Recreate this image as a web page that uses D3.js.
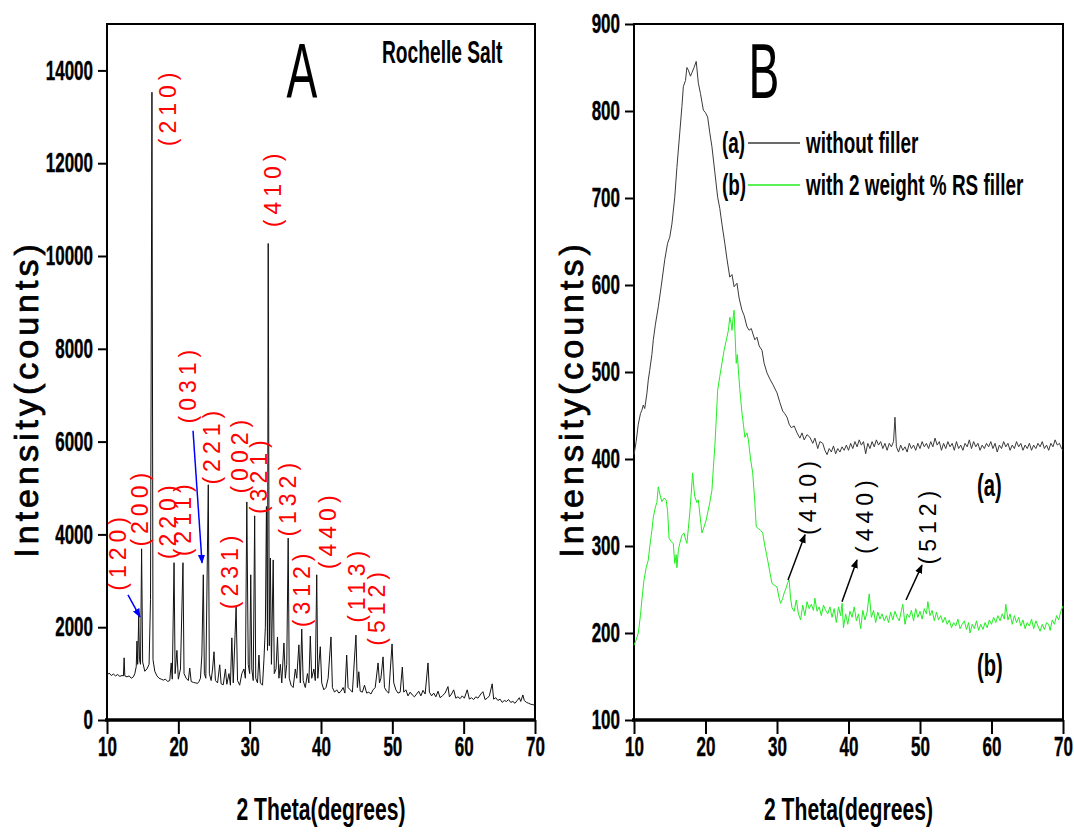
<!DOCTYPE html>
<html>
<head>
<meta charset="utf-8">
<script src="https://cdn.jsdelivr.net/npm/d3@7"></script>
<style>
  body { margin: 0; background: #fff; }
  svg { display: block; }
  text { font-family: "Liberation Sans", Arial, sans-serif; }
</style>
</head>
<body>
<div id="chart"></div>
<script>
// ---------- data ----------
var xTicks = [10, 20, 30, 40, 50, 60, 70];
var yTicksA = [0, 2000, 4000, 6000, 8000, 10000, 12000, 14000];
var yTicksB = [100, 200, 300, 400, 500, 600, 700, 800, 900];

// panel A : Rochelle salt powder pattern (2theta, counts)
var rsTheta = [10.0,10.3,10.6,10.9,11.2,11.5,11.8,12.1,12.3,12.4,12.5,12.8,13.1,13.4,13.7,13.9,14.1,14.2,14.3,14.45,14.55,14.7,14.85,15.0,15.3,15.6,15.9,16.1,16.3,16.45,16.7,17.0,17.3,17.6,17.9,18.2,18.5,18.8,19.0,19.15,19.4,19.55,19.8,20.0,20.3,20.65,20.8,21.1,21.4,21.6,21.8,22.1,22.4,22.7,22.9,23.1,23.3,23.5,23.65,23.85,24.2,24.35,24.6,24.8,25.0,25.2,25.5,25.8,26.0,26.3,26.6,26.8,27.1,27.3,27.5,27.7,28.1,28.3,28.6,28.9,29.2,29.4,29.6,29.8,30.0,30.15,30.3,30.5,30.7,30.85,31.1,31.3,31.5,31.8,32.0,32.2,32.35,32.5,32.6,32.75,32.9,33.05,33.3,33.45,33.7,33.9,34.1,34.3,34.5,34.8,35.0,35.2,35.4,35.55,35.8,36.1,36.4,36.6,36.9,37.1,37.3,37.5,37.8,38.1,38.3,38.5,38.7,39.0,39.2,39.4,39.55,39.9,40.1,40.4,40.7,41.0,41.4,41.6,41.9,42.2,42.5,42.8,43.1,43.35,43.6,43.8,44.1,44.4,44.9,45.1,45.3,45.5,45.8,46.1,46.4,46.7,47.0,47.3,47.6,48.0,48.2,48.4,48.7,48.9,49.2,49.5,49.96,50.2,50.5,50.8,51.1,51.4,51.6,51.9,52.2,52.5,52.8,53.1,53.4,53.7,54.0,54.3,54.6,55.0,55.2,55.5,55.8,56.1,56.4,56.7,57.0,57.4,57.8,58.0,58.3,58.6,58.9,59.2,59.5,59.8,60.1,60.5,60.8,61.1,61.4,61.7,62.0,62.4,62.7,63.0,63.3,63.6,64.0,64.2,64.5,64.8,65.1,65.4,65.7,66.0,66.3,66.6,66.9,67.2,67.5,67.8,68.0,68.3,68.5,68.8,69.1,69.4,69.7,70.0];
var rsCounts = [970,1010,960,990,950,980,940,960,950,1340,950,930,950,900,930,1000,1150,1700,1200,2250,1300,1200,3690,1250,1050,1100,1200,2600,13530,1300,1050,950,900,880,860,880,830,850,1230,880,3390,1000,1500,880,1100,3390,1000,900,850,1120,830,810,800,790,830,900,1400,3130,1000,900,5070,1000,850,1100,1470,850,800,1190,780,760,1100,770,1000,750,1770,800,2440,850,750,1000,1100,900,4700,1200,1000,3130,1100,850,4400,900,800,1400,800,750,1300,2000,4600,1500,10270,1600,3490,1200,3450,1000,1100,1790,900,1200,800,1660,900,1200,3920,900,750,700,1100,900,1620,800,1960,850,700,1000,800,1810,900,1100,850,3130,900,1580,800,650,700,900,1790,700,600,650,580,620,700,580,1400,700,650,600,1830,700,1040,620,600,750,580,600,560,650,700,1230,800,900,1360,700,620,580,1640,800,650,580,600,1140,600,650,520,600,540,500,560,620,520,640,560,1230,600,520,580,500,620,480,520,580,720,500,560,650,470,500,460,520,470,650,450,480,440,500,470,560,610,440,470,520,780,450,480,420,450,380,420,400,440,380,400,360,420,480,400,540,420,380,360,340,330,320];

// panel B, curve (a): without filler
var aTheta = [10.0,10.3,10.6,10.9,11.1,11.3,11.5,11.8,12.0,12.2,12.5,12.7,13.0,13.4,13.8,14.3,14.7,15.0,15.3,15.7,16.0,16.4,16.7,16.9,17.2,17.4,17.6,17.9,18.1,18.4,18.7,19.0,19.3,19.7,20.0,20.3,20.6,20.9,21.3,21.7,22.0,22.3,22.7,23.0,23.4,23.7,24.0,24.4,24.7,25.1,25.4,25.8,26.1,26.4,26.9,27.2,27.5,27.9,28.2,28.6,29.0,29.4,30.0,30.4,30.8,31.1,31.4,31.7,32.0,32.4,32.8,33.2,33.5,33.8,34.2,34.6,35.0,35.3,35.7,36.0,36.4,36.7,37.0,37.3,37.6,37.9,38.2,38.5,38.8,39.1,39.4,39.7,40.0,40.3,40.6,40.9,41.2,41.5,41.8,42.1,42.4,42.7,43.0,43.3,43.6,43.9,44.2,44.5,44.8,45.1,45.4,45.7,46.0,46.3,46.5,46.7,47.0,47.3,47.6,47.9,48.2,48.5,48.8,49.1,49.4,49.7,50.0,50.3,50.6,50.9,51.2,51.5,51.8,52.1,52.4,52.7,53.0,53.3,53.6,53.9,54.2,54.5,54.8,55.1,55.4,55.7,56.0,56.3,56.6,56.9,57.2,57.5,57.8,58.1,58.4,58.7,59.0,59.3,59.6,59.9,60.2,60.5,60.8,61.1,61.4,61.7,62.0,62.3,62.6,62.9,63.2,63.5,63.8,64.1,64.4,64.7,65.0,65.3,65.6,65.9,66.2,66.5,66.8,67.1,67.4,67.7,68.0,68.3,68.6,68.9,69.2,69.5,69.8,70.0];
var aCounts = [405,420,440,452,456,462,458,475,491,502,520,537,555,575,598,629,648,655,670,701,735,775,805,828,835,850,847,840,844,850,857,832,820,801,798,793,775,759,730,701,688,670,648,630,609,612,598,602,585,571,565,552,548,550,537,540,530,525,510,499,492,486,476,465,455,452,448,440,436,438,430,424,430,422,428,425,418,424,412,420,418,410,405,412,408,415,406,412,408,414,410,416,410,418,412,420,414,422,416,420,406,418,412,420,414,422,416,420,412,418,410,418,414,420,448,414,408,416,410,414,408,418,412,416,410,418,412,420,414,418,412,420,414,424,416,420,410,418,412,420,414,418,410,420,412,416,410,418,414,422,412,420,414,418,410,416,412,418,414,420,412,418,408,416,412,420,414,418,410,416,412,420,414,418,410,416,412,418,410,416,412,418,414,420,412,416,410,418,414,422,416,418,412,410];

// panel B, curve (b): with 2 weight % RS filler
var bTheta = [10.0,10.3,10.6,10.9,11.1,11.4,11.7,12.0,12.2,12.5,12.7,13.0,13.2,13.4,13.6,13.9,14.2,14.5,14.7,14.9,15.2,15.5,15.7,15.9,16.0,16.2,16.4,16.7,17.0,17.2,17.4,17.6,17.8,18.0,18.2,18.4,18.5,18.8,19.0,19.3,19.5,19.8,20.1,20.3,20.6,20.9,21.1,21.3,21.5,21.7,22.0,22.3,22.6,23.0,23.2,23.4,23.6,23.7,23.9,24.0,24.15,24.3,24.45,24.6,24.8,25.1,25.3,25.5,25.8,26.0,26.3,26.6,26.9,27.1,27.4,27.7,28.0,28.3,28.6,29.0,29.3,29.6,30.0,30.3,30.5,30.8,31.0,31.3,31.5,31.7,31.9,32.1,32.4,32.7,33.0,33.3,33.6,33.9,34.2,34.5,34.8,35.1,35.3,35.6,35.9,36.2,36.5,36.8,37.1,37.4,37.7,38.0,38.3,38.6,38.9,39.1,39.3,39.6,39.9,40.2,40.5,40.8,41.1,41.4,41.7,42.0,42.3,42.6,42.9,43.2,43.5,43.8,44.1,44.4,44.7,45.0,45.3,45.6,45.9,46.2,46.5,46.8,47.1,47.4,47.6,47.9,48.2,48.5,48.8,49.1,49.4,49.7,50.0,50.3,50.6,50.9,51.1,51.4,51.7,52.0,52.3,52.6,52.9,53.2,53.5,53.8,54.1,54.4,54.7,55.0,55.3,55.6,55.9,56.2,56.5,56.8,57.0,57.3,57.6,57.9,58.2,58.5,58.8,59.1,59.4,59.7,60.0,60.3,60.6,60.9,61.2,61.5,61.8,62.0,62.3,62.6,62.9,63.2,63.5,63.8,64.1,64.4,64.7,65.0,65.3,65.6,65.9,66.2,66.5,66.8,67.1,67.4,67.7,68.0,68.2,68.5,68.8,69.1,69.4,69.7,70.0];
var bCounts = [186,192,200,220,238,261,275,284,299,318,333,345,350,368,360,351,355,353,340,309,305,303,280,290,275,295,303,312,315,308,303,320,338,360,384,365,357,350,353,330,315,322,330,338,350,364,390,414,445,479,495,510,525,540,548,563,555,548,565,571,540,510,520,502,480,453,440,425,430,422,400,384,350,322,320,318,315,300,288,270,257,255,253,240,234,240,246,252,258,261,240,229,225,238,222,215,232,220,236,228,233,226,240,225,230,220,232,226,222,230,218,228,212,230,220,234,206,222,210,225,218,230,214,222,205,226,215,224,245,218,226,212,224,216,222,214,220,212,224,215,225,218,214,226,233,210,222,218,226,214,228,218,225,216,228,222,236,220,226,214,224,215,220,212,218,210,215,206,212,208,216,205,210,214,204,212,200,210,205,214,203,210,204,212,206,215,210,218,212,220,214,222,216,233,215,222,210,220,212,218,208,215,205,212,208,216,205,214,208,202,210,204,212,210,203,215,210,220,215,225,231];

// Miller indices marked in panel A (label centre in data units)
var hklA = ["(120)","(200)","(210)","(220)","(211)","(031)","(221)","(231)","(002)","(321)","(410)","(132)","(312)","(440)","(113)","(512)"];
var hklATheta = [11.54,14.63,18.55,18.55,20.65,21.36,24.72,27.24,28.65,31.31,33.27,35.38,37.34,40.98,45.05,47.85];
var hklACounts = [3635,4585,13215,4315,4358,7238,5922,3236,5728,5286,11467,4800,2848,4099,2923,2449];
// blue pointer arrows in A: [theta0, counts0, theta1, counts1]
var arrowsA = [[12.94,2697,14.63,2222],[22.06,6235,23.32,3387]];

// Miller indices marked on curve (b)
var hklB = ["(410)","(440)","(512)"];
var hklBTheta = [34.34,42.31,51.12];
var hklBCounts = [358,336,324];
var arrowsB = [[31.54,261,33.92,313],[39.09,236,41.19,284],[48.04,238,50.28,278]];

// ---------- drawing ----------
var W = 1074, H = 832;
var svg = d3.select("#chart").append("svg").attr("width", W).attr("height", H);

var defs = svg.append("defs");
function marker(id, color) {
  defs.append("marker").attr("id", id)
    .attr("viewBox", "0 0 10 10").attr("refX", 9).attr("refY", 5)
    .attr("markerWidth", 6).attr("markerHeight", 6).attr("orient", "auto")
    .append("path").attr("d", "M0,1 L10,5 L0,9 Z").attr("fill", color);
}
marker("headBlue", "#0000ff");
marker("headBlack", "#000");

var SX = 0.63;  // the figure uses a very narrow bold face

function narrow(sel, sx) {
  sel.each(function() {
    var t = d3.select(this);
    var x = +t.attr("x") || 0;
    t.attr("x", x / sx).attr("transform", "scale(" + sx + ",1)");
  });
}

function panel(opt) {
  var x = d3.scaleLinear().domain([10, 70]).range([opt.left, opt.right]);
  var y = d3.scaleLinear().domain(opt.yDomain).range([720, 24]);
  var g = svg.append("g");

  // y axis
  var ya = g.append("g").attr("transform", "translate(" + opt.left + ",0)")
    .call(d3.axisLeft(y).tickValues(opt.yTicks).tickSize(9).tickPadding(5).tickFormat(d3.format("d")));
  // x axis
  var xa = g.append("g").attr("transform", "translate(0,720)")
    .call(d3.axisBottom(x).tickValues(xTicks).tickSize(14).tickPadding(3).tickFormat(d3.format("d")));
  [ya, xa].forEach(function(a) {
    a.select(".domain").remove();
    a.selectAll(".tick line").attr("stroke", "#000").attr("stroke-width", 2);
    a.selectAll(".tick text").attr("fill", "#000").style("font-size", "27px").style("font-weight", "bold")
      .attr("stroke", "#000").attr("stroke-width", 0.4);
    narrow(a.selectAll(".tick text"), SX);
  });

  // frame
  g.append("rect").attr("x", opt.left).attr("y", 24)
    .attr("width", opt.right - opt.left).attr("height", 696)
    .attr("fill", "none").attr("stroke", "#000").attr("stroke-width", 2);
  g.append("line").attr("x1", opt.left - 2).attr("x2", opt.right + 1)
    .attr("y1", 720).attr("y2", 720).attr("stroke", "#000").attr("stroke-width", 3.5);

  // axis titles
  g.append("text").attr("transform", "translate(" + opt.yLabelX + ",399) rotate(-90)")
    .attr("text-anchor", "middle").style("font-size", "34px").style("letter-spacing", "4px")
    .attr("stroke", "#000").attr("stroke-width", 0.8)
    .text("Intensity(counts)");
  g.append("text").attr("x", (opt.left + opt.right) / 2 / 0.66).attr("y", 820)
    .attr("transform", "scale(0.66,1)").attr("text-anchor", "middle")
    .style("font-size", "32px").style("font-weight", "bold").text("2 Theta(degrees)");

  // panel letter
  g.append("text").attr("x", opt.letterX / 0.6).attr("y", 98)
    .attr("transform", "scale(0.6,1)").attr("text-anchor", "middle")
    .style("font-size", "77px").text(opt.letter);

  return { g: g, x: x, y: y };
}

function boldNarrow(g, txt, x, y, size, sx, anchor) {
  return g.append("text").attr("x", x / sx).attr("y", y)
    .attr("transform", "scale(" + sx + ",1)").attr("text-anchor", anchor || "start")
    .style("font-size", size + "px").style("font-weight", "bold").text(txt);
}

function hklLabels(p, names, th, ct, color) {
  p.g.selectAll(null).data(names).enter().append("text")
    .attr("transform", function(d, i) {
      return "translate(" + p.x(th[i]) + "," + p.y(ct[i]) + ") rotate(-90)";
    })
    .attr("text-anchor", "middle").attr("dy", "0.36em")
    .attr("fill", color).style("font-size", "23px").style("letter-spacing", "5px")
    .text(function(d) { return d; });
}

function arrows(p, list, color, head) {
  p.g.selectAll(null).data(list).enter().append("line")
    .attr("x1", function(d) { return p.x(d[0]); })
    .attr("y1", function(d) { return p.y(d[1]); })
    .attr("x2", function(d) { return p.x(d[2]); })
    .attr("y2", function(d) { return p.y(d[3]); })
    .attr("stroke", color).attr("stroke-width", 1.5)
    .attr("marker-end", "url(#" + head + ")");
}

// ---- panel A ----
var A = panel({ left: 107, right: 535, yDomain: [0, 15000], yTicks: yTicksA,
                yLabelX: 38, letter: "A", letterX: 302 });
var lineA = d3.line().x(function(d, i) { return A.x(rsTheta[i]); })
                     .y(function(d) { return A.y(d); });
A.g.append("path").datum(rsCounts).attr("d", lineA)
  .attr("fill", "none").attr("stroke", "#111").attr("stroke-width", 1);
hklLabels(A, hklA, hklATheta, hklACounts, "#ff0000");
arrows(A, arrowsA, "#0000ff", "headBlue");
boldNarrow(A.g, "Rochelle Salt", 382, 63, 32, 0.6);

// ---- panel B ----
var B = panel({ left: 634, right: 1063, yDomain: [100, 900], yTicks: yTicksB,
                yLabelX: 583, letter: "B", letterX: 764 });
var lineB = function(th) {
  return d3.line().x(function(d, i) { return B.x(th[i]); })
                  .y(function(d) { return B.y(d); });
};
B.g.append("path").datum(aCounts).attr("d", lineB(aTheta))
  .attr("fill", "none").attr("stroke", "#3a3a3a").attr("stroke-width", 1);
B.g.append("path").datum(bCounts).attr("d", lineB(bTheta))
  .attr("fill", "none").attr("stroke", "#22ee22").attr("stroke-width", 1);
hklLabels(B, hklB, hklBTheta, hklBCounts, "#000");
arrows(B, arrowsB, "#000", "headBlack");

// legend
var legend = [["(a)", "without filler", "#3a3a3a", 153], ["(b)", "with 2 weight % RS filler", "#22ee22", 195]];
legend.forEach(function(l) {
  boldNarrow(B.g, l[0], 722, l[3], 30, SX);
  B.g.append("line").attr("x1", 748).attr("x2", 800)
    .attr("y1", l[3] - 10).attr("y2", l[3] - 10)
    .attr("stroke", l[2]).attr("stroke-width", 1.5);
  boldNarrow(B.g, l[1], 806, l[3], 30, SX);
});
boldNarrow(B.g, "(a)", 977, 496, 32, SX);
boldNarrow(B.g, "(b)", 977, 676, 32, SX);
</script>
</body>
</html>
